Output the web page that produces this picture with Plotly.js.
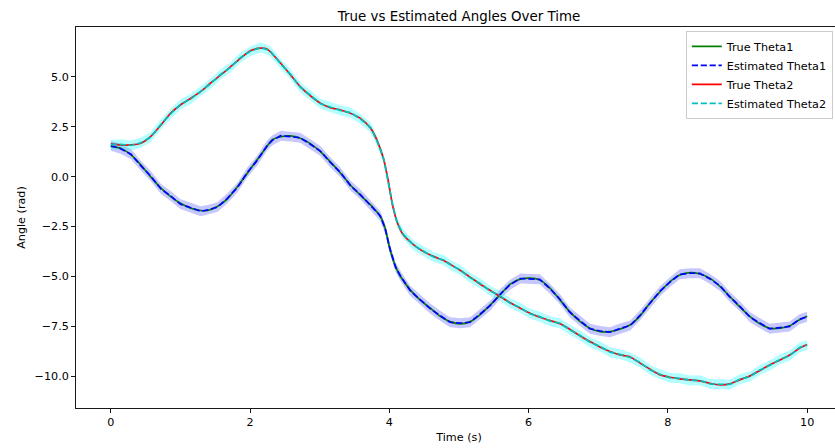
<!DOCTYPE html>
<html>
<head>
<meta charset="utf-8">
<script src="https://cdn.plot.ly/plotly-3.0.1.min.js"></script>
<style>
  html, body { margin: 0; padding: 0; overflow: hidden; background: #fff; }
  #chart { width: 850px; height: 448px; }
</style>
</head>
<body>
<div id="chart"></div>
<script>
// ---- Data ----
const timeTheta1 = [0,0.14,0.29,0.43,0.57,0.72,0.86,1.0,1.15,1.29,1.39,1.53,1.67,1.82,1.96,2.10,2.25,2.32,2.44,2.58,2.72,2.87,3.01,3.15,3.30,3.44,3.58,3.73,3.87,3.94,4.01,4.09,4.16,4.30,4.44,4.59,4.73,4.87,5.02,5.16,5.30,5.45,5.59,5.73,5.88,6.02,6.16,6.31,6.45,6.59,6.74,6.88,7.03,7.17,7.31,7.46,7.60,7.74,7.89,8.03,8.17,8.32,8.46,8.60,8.75,8.89,9.03,9.18,9.32,9.46,9.61,9.75,9.89,10.0];
const trueTheta1 = [1.52,1.42,1.09,0.59,0.0,-0.58,-1.0,-1.34,-1.59,-1.70,-1.70,-1.50,-1.13,-0.50,0.17,0.84,1.55,1.85,2.0,2.04,1.92,1.64,1.25,0.75,0.17,-0.42,-0.92,-1.42,-2.0,-2.59,-3.67,-4.51,-5.01,-5.68,-6.18,-6.6,-7.0,-7.27,-7.38,-7.27,-6.93,-6.43,-5.93,-5.40,-5.14,-5.09,-5.18,-5.6,-6.18,-6.77,-7.27,-7.6,-7.77,-7.77,-7.65,-7.43,-6.98,-6.35,-5.76,-5.26,-4.93,-4.81,-4.88,-5.09,-5.51,-6.01,-6.52,-7.02,-7.38,-7.6,-7.6,-7.48,-7.18,-7.0];
const estTheta1 = [1.55,1.40,1.12,0.55,0.04,-0.62,-0.97,-1.38,-1.56,-1.74,-1.67,-1.53,-1.10,-0.54,0.21,0.80,1.58,1.82,2.05,2.01,1.95,1.61,1.28,0.72,0.20,-0.45,-0.89,-1.45,-1.97,-2.62,-3.64,-4.55,-4.98,-5.72,-6.15,-6.63,-6.97,-7.30,-7.35,-7.30,-6.90,-6.46,-5.90,-5.43,-5.11,-5.12,-5.15,-5.63,-6.15,-6.80,-7.24,-7.63,-7.74,-7.80,-7.62,-7.46,-6.95,-6.38,-5.73,-5.29,-4.90,-4.84,-4.85,-5.12,-5.48,-6.04,-6.49,-7.05,-7.35,-7.63,-7.57,-7.51,-7.15,-7.03];

const timeTheta2 = [0,0.14,0.29,0.43,0.57,0.72,0.86,1.0,1.15,1.29,1.43,1.58,1.72,1.86,2.01,2.15,2.25,2.30,2.44,2.58,2.72,2.87,3.01,3.15,3.30,3.44,3.58,3.73,3.82,3.92,3.99,4.04,4.11,4.20,4.35,4.49,4.64,4.78,4.90,5.02,5.16,5.30,5.45,5.59,5.73,5.88,6.02,6.16,6.31,6.45,6.59,6.74,6.88,7.03,7.17,7.31,7.46,7.60,7.74,7.89,8.03,8.17,8.32,8.46,8.60,8.75,8.89,9.03,9.18,9.32,9.46,9.61,9.75,9.89,10.0];
const trueTheta2 = [1.64,1.59,1.59,1.67,2.0,2.59,3.18,3.59,3.93,4.26,4.68,5.10,5.51,5.93,6.32,6.44,6.39,6.22,5.68,5.10,4.51,4.04,3.68,3.46,3.34,3.18,2.93,2.43,1.84,0.84,-0.33,-1.34,-2.26,-2.92,-3.42,-3.76,-4.01,-4.21,-4.45,-4.71,-5.04,-5.38,-5.71,-6.01,-6.31,-6.6,-6.85,-7.05,-7.22,-7.38,-7.65,-7.99,-8.27,-8.55,-8.77,-8.94,-9.04,-9.35,-9.65,-9.94,-10.06,-10.14,-10.19,-10.24,-10.36,-10.44,-10.39,-10.19,-9.99,-9.72,-9.44,-9.19,-8.94,-8.60,-8.42];
const estTheta2 = [1.60,1.62,1.56,1.70,1.97,2.62,3.15,3.62,3.90,4.29,4.65,5.13,5.48,5.96,6.29,6.47,6.36,6.25,5.65,5.13,4.48,4.07,3.65,3.49,3.31,3.21,2.90,2.46,1.81,0.87,-0.36,-1.31,-2.29,-2.89,-3.45,-3.73,-4.04,-4.18,-4.48,-4.68,-5.07,-5.35,-5.74,-5.98,-6.34,-6.57,-6.88,-7.02,-7.25,-7.35,-7.68,-7.96,-8.30,-8.52,-8.80,-8.91,-9.07,-9.32,-9.68,-9.91,-10.09,-10.11,-10.22,-10.21,-10.39,-10.41,-10.42,-10.16,-10.02,-9.69,-9.47,-9.16,-8.97,-8.57,-8.45];

const estUncertainty = 0.25; // half-width of the shaded band (rad)

const yTickVals = [-10, -7.5, -5, -2.5, 0, 2.5, 5];
const yTickText = ['\u221210.0', '\u22127.5', '\u22125.0', '\u22122.5', '0.0', '2.5', '5.0'];
const xTickVals = [0, 2, 4, 6, 8, 10];

// ---- Build band polygons ----
function band(t, v, h, color) {
  const xs = t.concat(t.slice().reverse());
  const up = v.map(a => a + h);
  const lo = v.map(a => a - h).reverse();
  return {
    x: xs, y: up.concat(lo), type: 'scatter', mode: 'lines',
    fill: 'toself', fillcolor: color, line: { width: 0 },
    hoverinfo: 'skip', showlegend: false
  };
}

const LW = 1.7;
const DASH = '6.2px,2.7px';

const traces = [
  band(timeTheta1, estTheta1, estUncertainty, 'rgba(0,0,255,0.22)'),
  band(timeTheta2, estTheta2, estUncertainty, 'rgba(0,255,255,0.3)'),
  { x: timeTheta1, y: trueTheta1, type: 'scatter', mode: 'lines', name: 'True Theta1',
    line: { color: 'rgb(0,128,0)', width: LW, shape: 'spline', smoothing: 0.6 } },
  { x: timeTheta1, y: estTheta1, type: 'scatter', mode: 'lines', name: 'Estimated Theta1',
    line: { color: 'rgb(0,0,255)', width: LW, dash: DASH } },
  { x: timeTheta2, y: trueTheta2, type: 'scatter', mode: 'lines', name: 'True Theta2',
    line: { color: 'rgb(255,0,0)', width: LW, shape: 'spline', smoothing: 0.6 } },
  { x: timeTheta2, y: estTheta2, type: 'scatter', mode: 'lines', name: 'Estimated Theta2',
    line: { color: 'rgb(0,191,191)', width: LW, dash: DASH } }
];

const font = { family: 'DejaVu Sans, sans-serif', size: 11.2, color: '#000' };

const layout = {
  width: 850, height: 448,
  margin: { l: 76, r: 8, t: 27, b: 40 },
  paper_bgcolor: '#fff', plot_bgcolor: '#fff',
  font: font,
  title: { text: 'True vs Estimated Angles Over Time', font: { family: 'DejaVu Sans, sans-serif', size: 13.4, color: '#000' },
           x: 0.5, xref: 'paper', y: 1 - 16 / 448, yref: 'container', yanchor: 'middle' },
  xaxis: {
    range: [-0.5, 10.5], tickvals: xTickVals, ticks: 'outside', ticklen: 4, tickwidth: 0.9, tickcolor: '#000',
    showline: true, linecolor: '#000', linewidth: 0.9, mirror: true, showgrid: false, zeroline: false,
    title: { text: 'Time (s)', font: font, standoff: 4 }
  },
  yaxis: {
    range: [-11.6, 7.5], tickvals: yTickVals, ticktext: yTickText, ticks: 'outside', ticklen: 4, tickwidth: 0.9, tickcolor: '#000',
    showline: true, linecolor: '#000', linewidth: 0.9, mirror: true, showgrid: false, zeroline: false,
    title: { text: 'Angle (rad)', font: font, standoff: 6 }
  },
  legend: {
    x: 0.988, xanchor: 'right', y: 0.99, yanchor: 'top',
    bgcolor: 'rgba(255,255,255,0.8)', bordercolor: '#ccc', borderwidth: 1,
    itemwidth: 30, tracegroupgap: 0,
    font: font
  },
  showlegend: true
};

Plotly.newPlot('chart', traces, layout, { displayModeBar: false, staticPlot: true });
</script>
</body>
</html>
